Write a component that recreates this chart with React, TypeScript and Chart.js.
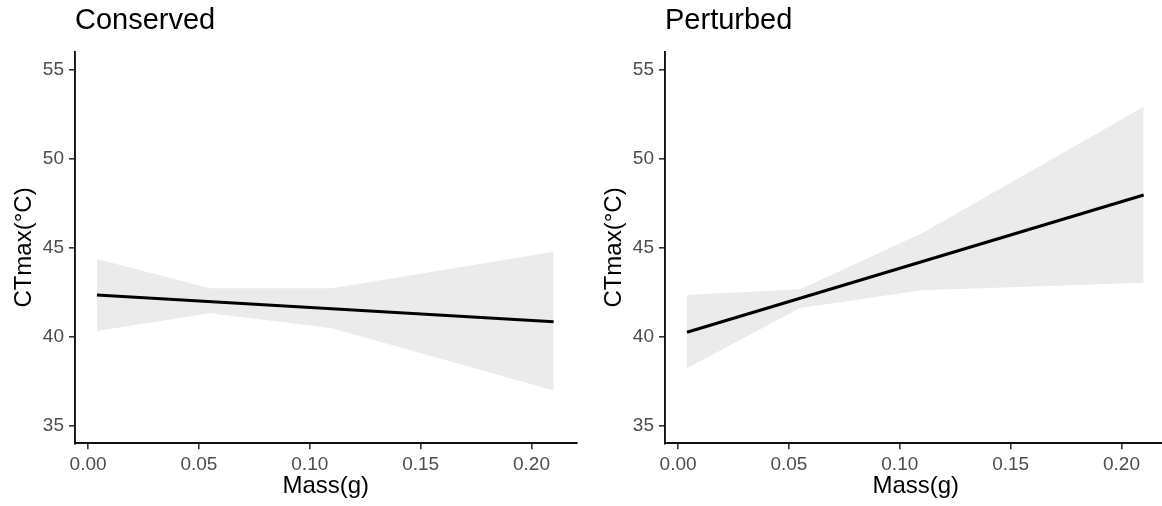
import React, { useEffect, useRef } from 'react';
import { Chart, registerables } from 'chart.js';

Chart.register(...registerables);

// ---- data ----
const bandMass = [0.004, 0.055, 0.11, 0.21];
const fitMass = [0.004, 0.21];

const conservedFit = [42.33, 40.83];
const conservedUpper = [44.35, 42.71, 42.71, 44.76];
const conservedLower = [40.31, 41.3, 40.46, 36.96];

const perturbedFit = [40.24, 47.95];
const perturbedUpper = [42.33, 42.65, 45.8, 52.91];
const perturbedLower = [38.21, 41.6, 42.6, 43.02];

const xTicks = [0, 0.05, 0.1, 0.15, 0.2];
const yTicks = [35, 40, 45, 50, 55];

const panelTitles = ['Conserved', 'Perturbed'];
const xTitle = 'Mass(g)';
const yTitle = 'CTmax(°C)';

const FONT = '"Liberation Sans", Arial, Helvetica, sans-serif';

type PanelProps = {
  title: string;
  fit: number[];
  upper: number[];
  lower: number[];
  left: number;
};

function Panel({ title, fit, upper, lower, left }: PanelProps) {
  const ref = useRef<HTMLCanvasElement | null>(null);

  useEffect(() => {
    if (!ref.current) return;
    const toPts = (xs: number[], ys: number[]) => xs.map((x, i) => ({ x, y: ys[i] }));
    const chart = new Chart(ref.current, {
      type: 'line',
      data: {
        datasets: [
          {
            label: 'lower',
            data: toPts(bandMass, lower),
            borderWidth: 0,
            borderColor: 'rgba(0,0,0,0)',
            pointRadius: 0,
            fill: false,
            tension: 0,
            order: 2,
          },
          {
            label: 'upper',
            data: toPts(bandMass, upper),
            borderWidth: 0,
            borderColor: 'rgba(0,0,0,0)',
            backgroundColor: '#ebebeb',
            pointRadius: 0,
            fill: 0,
            tension: 0,
            order: 1,
          },
          {
            label: 'fit',
            data: toPts(fitMass, fit),
            borderWidth: 3.2,
            borderColor: '#000000',
            pointRadius: 0,
            fill: false,
            tension: 0,
            order: -1,
          },
        ],
      },
      options: {
        animation: false,
        responsive: false,
        maintainAspectRatio: false,
        layout: { padding: { left: 0, right: 4.5, top: 0, bottom: 0 } },
        plugins: {
          legend: { display: false },
          tooltip: { enabled: false },
          title: {
            display: true,
            text: title,
            align: 'start',
            fullSize: false,
            color: '#000000',
            font: { family: FONT, size: 29, weight: 'normal' },
            padding: { top: 3.6, bottom: 13.3 },
          },
        },
        scales: {
          x: {
            type: 'linear',
            min: -0.0059,
            max: 0.2203,
            afterBuildTicks: (s: any) => {
              s.ticks = xTicks.map((v) => ({ value: v }));
            },
            afterFit: (s: any) => {
              s.height = 62.7;
            },
            ticks: {
              includeBounds: false,
              color: '#4d4d4d',
              font: { family: FONT, size: 19 },
              padding: 4,
              maxRotation: 0,
              callback: (v: any) => Number(v).toFixed(2),
            },
            grid: {
              drawOnChartArea: false,
              drawTicks: true,
              tickLength: 6,
              color: '#333333',
              lineWidth: 1.6,
            },
            border: { display: true, color: '#111111', width: 1.9 },
            title: {
              display: true,
              text: xTitle,
              color: '#000000',
              font: { family: FONT, size: 24 },
              padding: { top: 0, bottom: 5 },
            },
          },
          y: {
            type: 'linear',
            min: 34,
            max: 56,
            afterBuildTicks: (s: any) => {
              s.ticks = yTicks.map((v) => ({ value: v }));
            },
            afterFit: (s: any) => {
              s.width = 75;
            },
            ticks: {
              includeBounds: false,
              color: '#4d4d4d',
              font: { family: FONT, size: 19 },
              padding: 5,
              callback: (v: any) => String(v),
            },
            grid: {
              drawOnChartArea: false,
              drawTicks: true,
              tickLength: 6,
              color: '#333333',
              lineWidth: 1.6,
            },
            border: { display: true, color: '#111111', width: 1.9 },
            title: {
              display: true,
              text: yTitle,
              color: '#000000',
              font: { family: FONT, size: 24 },
              padding: { top: 9.6, bottom: 0 },
            },
          },
        },
      } as any,
    });
    return () => chart.destroy();
  }, [title, fit, upper, lower]);

  return (
    <div style={{ position: 'absolute', left, top: 0, width: 581, height: 506 }}>
      <canvas ref={ref} width={581} height={506} style={{ width: 581, height: 506, display: 'block' }} />
    </div>
  );
}

export default function App() {
  return (
    <div
      style={{
        position: 'fixed',
        left: 0,
        top: 0,
        width: 1162,
        height: 506,
        overflow: 'hidden',
        background: '#ffffff',
      }}
    >
      <Panel title={panelTitles[0]} fit={conservedFit} upper={conservedUpper} lower={conservedLower} left={0} />
      <Panel title={panelTitles[1]} fit={perturbedFit} upper={perturbedUpper} lower={perturbedLower} left={590} />
    </div>
  );
}
